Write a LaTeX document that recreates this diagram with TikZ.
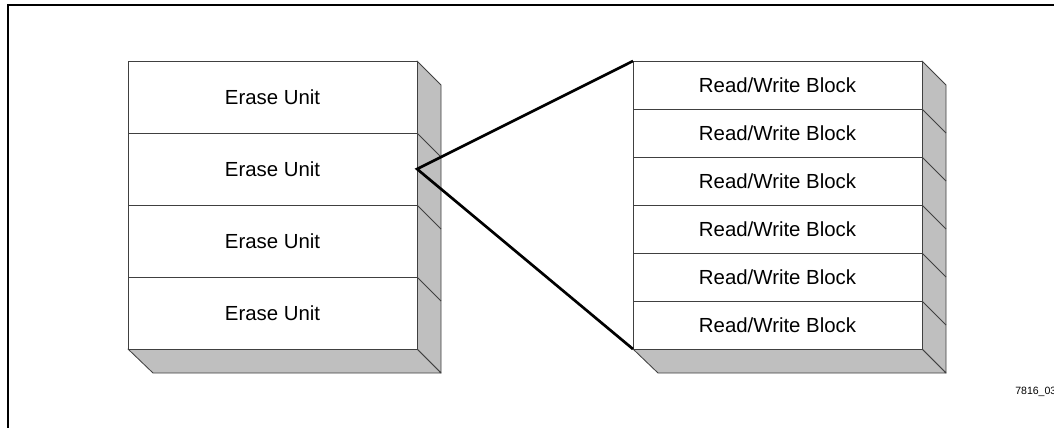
\documentclass[tikz,border=0pt]{standalone}
\usepackage{fontspec}
\setmainfont{Liberation Sans}
\usetikzlibrary{positioning}

\tikzset{
    unitbox/.style={draw=black!75, fill=white, line width=0.6pt, inner sep=0pt, outer sep=0pt,
        minimum width=7.225cm, minimum height=1.8cm, font=\fontsize{14.5}{16}\selectfont},
    blockbox/.style={unitbox, minimum height=1.2cm},
    sideface/.style={draw=black!75, fill=gray!50, line width=0.6pt, line join=round},
    zoomline/.style={line width=1.9pt, black}
}

\begin{document}
\begin{tikzpicture}[x=0.025cm, y=-0.025cm]
    \useasboundingbox (0,0) rectangle (1054,428);
    \draw[line width=1.7pt] (1054,5) -- (8,5) -- (8,428);

    % shaded sides of the two stacks
    \draw[sideface] (417,61) -- (441,85) -- (441,373) -- (417,349) -- cycle;
    \draw[sideface] (128,349) -- (153,373) -- (441,373) -- (417,349) -- cycle;
    \draw[sideface] (922,61) -- (946,85) -- (946,373) -- (922,349) -- cycle;
    \draw[sideface] (633,349) -- (658,373) -- (946,373) -- (922,349) -- cycle;

    % erase units
    \node[unitbox, anchor=north west] (eu1) at (128,61) {Erase Unit};
    \node[unitbox, below=0pt of eu1] (eu2) {Erase Unit};
    \node[unitbox, below=0pt of eu2] (eu3) {Erase Unit};
    \node[unitbox, below=0pt of eu3] (eu4) {Erase Unit};
    \draw[black!75, line width=0.6pt] (eu1.south east) -- ++(24,24);
    \draw[black!75, line width=0.6pt] (eu2.south east) -- ++(24,24);
    \draw[black!75, line width=0.6pt] (eu3.south east) -- ++(24,24);

    % read/write blocks
    \node[blockbox, anchor=north west] (rw1) at (633,61) {Read/Write Block};
    \node[blockbox, below=0pt of rw1] (rw2) {Read/Write Block};
    \node[blockbox, below=0pt of rw2] (rw3) {Read/Write Block};
    \node[blockbox, below=0pt of rw3] (rw4) {Read/Write Block};
    \node[blockbox, below=0pt of rw4] (rw5) {Read/Write Block};
    \node[blockbox, below=0pt of rw5] (rw6) {Read/Write Block};
    \draw[black!75, line width=0.6pt] (rw1.south east) -- ++(24,24);
    \draw[black!75, line width=0.6pt] (rw2.south east) -- ++(24,24);
    \draw[black!75, line width=0.6pt] (rw3.south east) -- ++(24,24);
    \draw[black!75, line width=0.6pt] (rw4.south east) -- ++(24,24);
    \draw[black!75, line width=0.6pt] (rw5.south east) -- ++(24,24);

    % zoom lines
    \draw[zoomline] (rw1.north west) -- (eu2.east) -- (rw6.south west);

    \node[anchor=west, inner sep=0pt, font=\fontsize{7.5}{8}\selectfont] (figid) at (1015,392) {7816\_03};
\end{tikzpicture}
\end{document}
